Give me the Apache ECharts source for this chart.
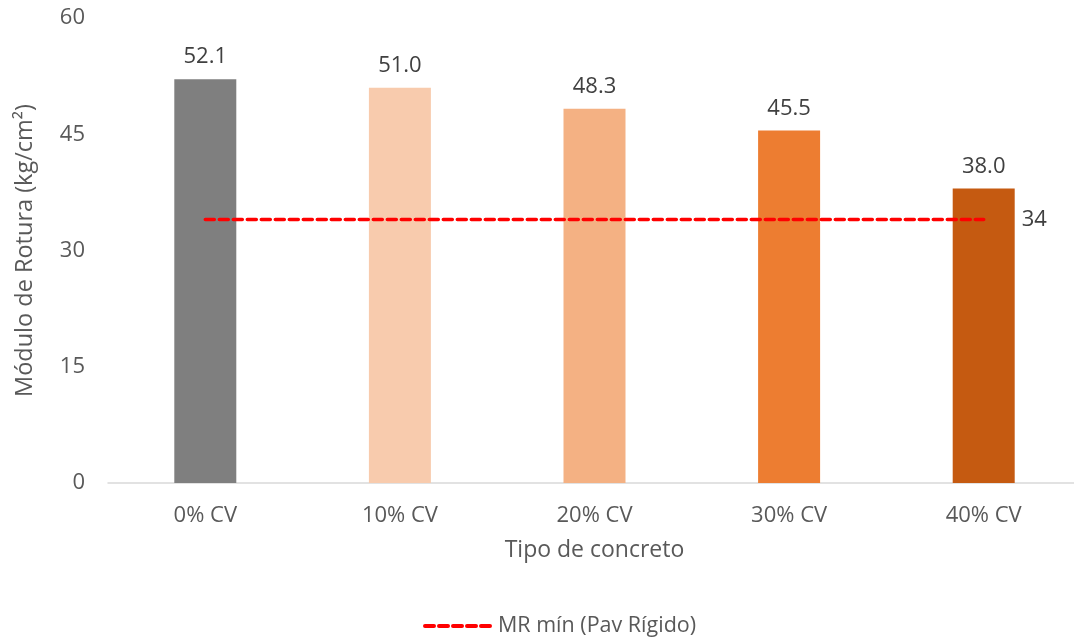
<!DOCTYPE html>
<html>
<head>
<meta charset="utf-8">
<script src="https://cdn.jsdelivr.net/npm/echarts@6/dist/echarts.min.js"></script>
<style>
  html, body { margin: 0; padding: 0; background: #fff; }
  #chart { width: 1074px; height: 638px; }
</style>
</head>
<body>
<div id="chart"></div>
<script>
// Flexural strength (módulo de rotura) by concrete mix
const categories = ['0% CV', '10% CV', '20% CV', '30% CV', '40% CV'];
const moduloRotura = [52.1, 51.0, 48.3, 45.5, 38.0];
const barColors = ['#7f7f7f', '#f8cbad', '#f4b183', '#ed7d31', '#c55a11'];
const mrMinimo = [34, 34, 34, 34, 34];
const yTicks = { min: 0, max: 60, interval: 15 };

const FONT = '"Open Sans", "Liberation Sans", sans-serif';

const chart = echarts.init(document.getElementById('chart'));
chart.setOption({
  animation: false,
  textStyle: { fontFamily: FONT },
  // the category band runs slightly past the right edge of the canvas
  grid: { left: 108, width: 973, top: 18, height: 465, outerBoundsMode: 'none', containLabel: false },
  legend: {
    data: ['MR mín (Pav Rígido)'],
    top: 610,
    left: 418,
    itemWidth: 68,
    itemHeight: 14,
    itemGap: 8,
    itemStyle: { opacity: 0 },
    lineStyle: { width: 4, type: [9, 5], cap: 'round' },
    textStyle: { fontSize: 21.5, color: '#595959', fontFamily: FONT }
  },
  xAxis: {
    type: 'category',
    data: categories,
    name: 'Tipo de concreto',
    nameLocation: 'middle',
    nameGap: 56,
    nameTextStyle: { fontSize: 23, color: '#595959', fontFamily: FONT },
    axisLine: { show: true, lineStyle: { color: '#d9d9d9', width: 1.5 } },
    axisTick: { show: false },
    axisLabel: { fontSize: 22, color: '#595959', margin: 22, fontFamily: FONT }
  },
  yAxis: {
    type: 'value',
    min: yTicks.min,
    max: yTicks.max,
    interval: yTicks.interval,
    name: 'Módulo de Rotura (kg/cm²)',
    nameLocation: 'middle',
    nameGap: 71,
    nameTextStyle: { fontSize: 23.5, color: '#595959', fontFamily: FONT },
    axisLine: { show: false },
    axisTick: { show: false },
    splitLine: { show: false },
    axisLabel: { fontSize: 22, color: '#595959', margin: 23, fontFamily: FONT }
  },
  series: [
    {
      name: 'Módulo de Rotura',
      type: 'bar',
      barWidth: 62,
      data: moduloRotura.map((v, i) => ({ value: v, itemStyle: { color: barColors[i] } })),
      label: {
        show: true,
        position: 'top',
        distance: 11,
        fontSize: 22,
        color: '#404040',
        fontFamily: FONT,
        formatter: p => p.value.toFixed(1)
      },
      z: 2
    },
    {
      name: 'MR mín (Pav Rígido)',
      type: 'line',
      data: mrMinimo,
      showSymbol: false,
      symbol: 'none',
      lineStyle: { color: '#ff0000', width: 3.5, type: [9, 5], cap: 'round' },
      itemStyle: { color: '#ff0000' },
      endLabel: {
        show: true,
        formatter: p => String(p.value),
        distance: 38,
        fontSize: 22,
        color: '#404040',
        fontFamily: FONT
      },
      z: 3
    }
  ]
});
</script>
</body>
</html>
